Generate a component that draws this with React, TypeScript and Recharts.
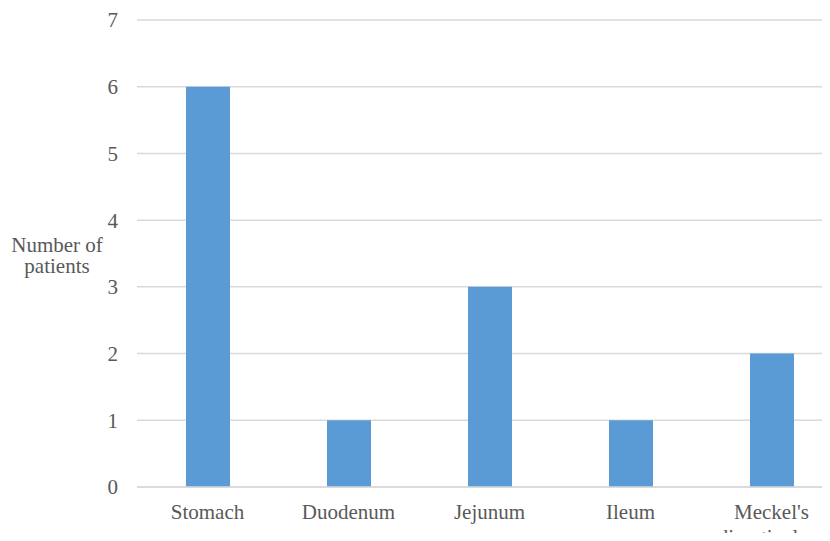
import { BarChart, Bar, XAxis, YAxis, CartesianGrid } from 'recharts'

const SITES = ['Stomach', 'Duodenum', 'Jejunum', 'Ileum', "Meckel's diverticulum"]
const PATIENTS = [6, 1, 3, 1, 2]
const Y_TICKS = [0, 1, 2, 3, 4, 5, 6, 7]

const FONT = 'Liberation Serif, Times New Roman, serif'
const TEXT = '#595959'
const GRID = '#d9d9d9'
const BAR = '#5b9bd5'

const data = SITES.map((site, i) => ({ site, patients: PATIENTS[i] }))

// long category names wrap onto two lines, like the spreadsheet did
function SiteTick(props: any) {
  const { x, y, payload } = props
  const label: string = payload.value
  const lines = label.length > 12 ? label.split(' ') : [label]
  return (
    <text textAnchor="middle" fontSize={21} style={{ fontFamily: FONT }} fill={TEXT}>
      {lines.map((ln, i) => (
        <tspan key={i} x={x} y={y + 15 + i * 25}>{ln}</tspan>
      ))}
    </text>
  )
}

function YTitle(props: any) {
  const { viewBox } = props
  const cx = 57
  const cy = viewBox.y + viewBox.height / 2
  return (
    <text textAnchor="middle" fontSize={21} style={{ fontFamily: FONT }} fill={TEXT}>
      <tspan x={cx} y={cy - 2}>Number of</tspan>
      <tspan x={cx} y={cy + 19}>patients</tspan>
    </text>
  )
}

export default function App() {
  return (
    <div style={{ margin: -8, width: 830, height: 541, overflow: 'hidden', background: '#fff', fontFamily: FONT }}>
      <BarChart width={850} height={541} data={data} style={{ fontFamily: FONT }}
                margin={{ top: 20, right: 8, bottom: 0, left: 0 }}>
        <CartesianGrid vertical={false} stroke={GRID} strokeWidth={1.5} />
        <XAxis dataKey="site" interval={0} tickLine={false} height={54}
               axisLine={{ stroke: GRID, strokeWidth: 1.5 }}
               tickSize={0} tickMargin={17} tick={<SiteTick />} />
        <YAxis width={137} domain={[0, 7]} ticks={Y_TICKS} interval={0}
               axisLine={false} tickLine={false} tickSize={0} tickMargin={19}
               tick={{ fontSize: 21, fill: TEXT, style: { fontFamily: FONT } }}
               label={{ content: <YTitle /> }} />
        <Bar dataKey="patients" fill={BAR} barSize={44} isAnimationActive={false} />
      </BarChart>
    </div>
  )
}
